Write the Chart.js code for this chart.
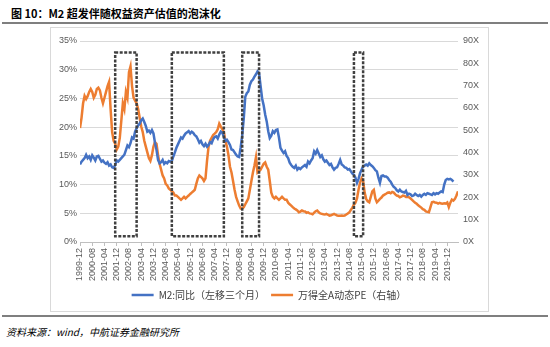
<!DOCTYPE html>
<html>
<head>
<meta charset="utf-8">
<script src="https://cdn.jsdelivr.net/npm/chart.js@4.4.0/dist/chart.umd.min.js"></script>
<style>
    body { margin: 0; width: 550px; height: 347px; background: #fff; position: relative; overflow: hidden; font-family: "Noto Sans CJK SC", sans-serif; }
    #title { position: absolute; left: 11px; top: 5px; font-size: 11px; font-weight: bold; color: #000; white-space: nowrap; }
    #rule1 { position: absolute; left: 2px; top: 22px; width: 546px; height: 2px; background: #7f7f7f; }
    #frame { position: absolute; left: 50px; top: 27px; width: 437px; height: 283px; border: 1px solid #d9d9d9; }
    #chartBox { position: absolute; left: 51px; top: 28px; width: 436px; height: 282px; }
    #rule2 { position: absolute; left: 2px; top: 315px; width: 546px; height: 2px; background: #7f7f7f; }
    #source { position: absolute; left: 6px; top: 324px; font-size: 10px; font-style: italic; color: #000; white-space: nowrap; }
</style>
</head>
<body>
<div id="title">图 10：M2 超发伴随权益资产估值的泡沫化</div>
<div id="rule1"></div>
<div id="frame"></div>
<div id="chartBox"><canvas id="m2Chart" width="436" height="282"></canvas></div>
<div id="rule2"></div>
<div id="source">资料来源：wind，中航证券金融研究所</div>
<script>
// monthly categories, 1999-12 onwards
const months = [];
for (let k = 0; k < 248; k++) {
    const m = 11 + k;
    months.push((1999 + Math.floor(m / 12)) + '-' + String(m % 12 + 1).padStart(2, '0'));
}

// M2 同比 (左移三个月), %
const m2Yoy = [
    13.5, 14.0, 14.3, 14.6, 15.2, 14.6, 14.9, 14.3, 15.1, 14.7, 14.2, 14.9,
    15.0, 14.5, 14.0, 14.2, 13.8, 13.6, 13.9, 13.3, 13.5, 13.0, 12.9, 13.4,
    14.2, 14.0, 14.3, 14.6, 14.9, 15.2, 16.0, 16.8, 16.5, 17.2, 18.2, 18.0,
    19.2, 19.8, 20.3, 20.6, 21.2, 21.5, 20.9, 20.2, 19.2, 19.4, 19.0, 19.5,
    18.9, 17.3, 16.0, 14.3, 13.7, 13.9, 14.3, 13.6, 13.9, 13.7, 14.1, 14.0,
    14.1, 14.9, 15.6, 16.4, 17.0, 17.6, 18.2, 18.0, 18.5, 18.9, 19.1, 19.3,
    18.9, 19.2, 19.0, 18.6, 18.4, 17.9, 17.3, 17.6, 17.0, 16.7, 17.1, 16.6,
    16.9, 17.4, 17.2, 17.9, 18.3, 18.4, 18.0, 18.7, 19.2, 19.0, 18.3, 17.6,
    17.8, 17.4, 16.9, 16.1, 16.0, 15.6, 15.2, 14.9, 14.8, 16.5, 18.6, 21.5,
    25.3, 25.9, 26.2, 27.4, 28.0, 28.3, 28.8, 29.2, 29.7, 29.4, 27.2, 25.0,
    23.8, 22.2, 21.0, 19.3, 18.1, 18.5, 19.3, 19.0, 19.5, 19.6, 18.2, 16.4,
    15.9, 15.5, 15.8, 15.0, 14.6, 13.8, 13.4, 13.1, 12.9, 13.3, 12.6, 12.9,
    12.7, 13.0, 13.2, 13.4, 13.1, 14.0, 13.7, 14.2, 14.6, 15.8, 15.4, 16.0,
    15.4, 14.8, 15.1, 14.4, 14.0, 14.2, 13.8, 13.4, 13.6, 13.0, 12.6, 12.9,
    13.0, 13.6, 14.3, 13.5, 13.3, 13.0, 12.9, 12.6, 12.7, 12.3, 11.9, 11.7,
    11.2, 10.3, 11.0, 12.0, 12.6, 13.2, 13.3, 13.5, 13.3, 13.7, 13.4, 13.2,
    12.9, 12.5, 12.3, 11.2, 10.3, 11.5, 11.6, 11.4, 11.4, 11.2, 10.8, 10.5,
    10.0, 9.6, 9.4, 9.0, 8.8, 9.1, 8.8, 8.7, 8.6, 8.9, 8.2, 8.4,
    8.3, 8.0, 8.1, 8.4, 8.2, 8.0, 8.2, 7.9, 8.2, 8.4, 8.2, 8.5,
    8.4, 8.3, 8.2, 8.5, 8.3, 8.5, 8.4, 8.6, 8.8, 8.7, 10.0, 10.8,
    11.0, 10.9, 11.0, 10.8, 10.5
];

// 万得全A动态PE (右轴), X
const windPe = [
    51.0, 55.6, 62.0, 65.4, 64.0, 65.3, 67.2, 68.5, 67.2, 64.6, 65.9, 68.5,
    69.1, 67.9, 64.6, 62.1, 64.6, 67.2, 69.8, 71.7, 59.5, 49.2, 45.3, 44.0,
    41.4, 42.7, 46.6, 54.3, 62.1, 59.5, 67.2, 64.6, 76.0, 78.6, 69.8, 64.6,
    63.3, 62.1, 59.5, 55.6, 51.7, 49.2, 45.3, 42.7, 40.1, 37.6, 36.3, 38.9,
    42.7, 44.7, 44.0, 38.9, 35.0, 32.4, 29.8, 28.5, 26.0, 25.3, 24.0, 23.4,
    22.7, 22.1, 20.8, 20.8, 20.2, 19.5, 18.9, 19.5, 20.2, 19.5, 20.2, 20.8,
    21.5, 22.1, 22.7, 23.4, 26.0, 28.5, 29.8, 29.2, 28.5, 27.3, 28.5, 36.3,
    42.7, 45.3, 46.6, 47.9, 48.5, 49.2, 50.5, 53.0, 51.7, 50.5, 49.2, 45.3,
    42.7, 38.9, 33.7, 31.1, 27.3, 23.4, 20.2, 18.2, 16.3, 15.0, 15.0, 15.6,
    16.9, 18.2, 19.5, 23.4, 27.3, 31.1, 34.3, 38.0, 31.1, 31.8, 32.4, 33.7,
    35.0, 35.6, 33.7, 32.4, 27.3, 22.1, 20.2, 19.5, 20.2, 19.5, 18.9, 19.5,
    20.2, 19.5, 18.9, 18.9, 17.6, 16.9, 16.3, 15.6, 15.0, 14.6, 14.1, 13.3,
    13.6, 14.1, 13.8, 13.7, 13.1, 13.3, 12.8, 12.7, 12.4, 13.1, 13.8, 14.1,
    13.3, 12.8, 12.6, 12.4, 12.3, 12.6, 12.2, 11.8, 12.0, 12.3, 12.6, 12.2,
    11.9, 11.8, 11.8, 11.9, 11.8, 11.9, 12.3, 12.8, 13.3, 14.4, 15.4, 16.7,
    17.6, 19.5, 23.4, 26.6, 28.5, 27.3, 22.1, 19.3, 18.2, 17.8, 20.2, 22.7,
    23.4, 19.5, 17.8, 18.5, 19.3, 19.9, 20.8, 21.2, 21.6, 22.1, 22.2, 21.8,
    22.4, 22.1, 21.3, 20.8, 20.6, 20.0, 20.3, 20.8, 20.6, 20.2, 20.3, 20.0,
    19.5, 18.9, 18.2, 17.6, 17.1, 16.4, 15.9, 15.4, 14.7, 14.4, 13.7, 13.5,
    13.3, 15.6, 17.8, 18.0, 17.7, 17.6, 17.2, 17.5, 17.2, 17.1, 17.3, 17.2,
    17.7, 15.6, 17.6, 19.0, 18.5, 19.3, 20.8, 22.7
];

// 虚线框 (泡沫期)
const boxFrom = ['2001-11', '2004-12', '2008-10', '2014-11'];
const boxTo = ['2003-01', '2007-10', '2009-09', '2015-05'];
const boxLow = 1;   // % on left axis
const boxHigh = 33;

const toPoints = arr => arr.map((v, i) => ({ x: i, y: v }));

// draw dashed boxes through the scales
const bubbleBoxes = {
    id: 'bubbleBoxes',
    afterDatasetsDraw(chart) {
        const { ctx, scales } = chart;
        ctx.save();
        ctx.strokeStyle = '#404040';
        ctx.lineWidth = 2.5;
        ctx.setLineDash([3, 1.5]);
        boxFrom.forEach((from, k) => {
            const x1 = scales.x.getPixelForValue(months.indexOf(from));
            const x2 = scales.x.getPixelForValue(months.indexOf(boxTo[k]));
            const y1 = scales.y.getPixelForValue(boxHigh);
            const y2 = scales.y.getPixelForValue(boxLow);
            ctx.strokeRect(x1, y1, x2 - x1, y2 - y1);
        });
        ctx.restore();
    }
};

const tickColor = '#595959';
const tickFont = { family: '"Liberation Sans", Arial, sans-serif', size: 9 };

new Chart(document.getElementById('m2Chart'), {
    type: 'line',
    data: {
        datasets: [
            {
                label: 'M2:同比（左移三个月）',
                data: toPoints(m2Yoy),
                borderColor: '#4472C4',
                backgroundColor: '#4472C4',
                borderWidth: 2.5,
                pointRadius: 0,
                tension: 0,
                yAxisID: 'y'
            },
            {
                label: '万得全A动态PE（右轴）',
                data: toPoints(windPe),
                borderColor: '#ED7D31',
                backgroundColor: '#ED7D31',
                borderWidth: 2.5,
                pointRadius: 0,
                tension: 0,
                yAxisID: 'y1'
            }
        ]
    },
    options: {
        responsive: false,
        animation: false,
        devicePixelRatio: 1,
        layout: { padding: { top: 13, left: 0, right: 0, bottom: 0 } },
        plugins: {
            tooltip: { enabled: false },
            legend: {
                position: 'bottom',
                labels: {
                    usePointStyle: true,
                    pointStyle: 'line',
                    pointStyleWidth: 22,
                    padding: 6,
                    color: '#404040',
                    font: { family: '"Noto Sans CJK SC", sans-serif', size: 10 }
                }
            }
        },
        scales: {
            x: {
                type: 'linear',
                min: 0,
                max: 247,
                afterBuildTicks: scale => {
                    scale.ticks = [];
                    for (let v = 0; v <= 240; v += 8) scale.ticks.push({ value: v });
                },
                afterFit: scale => { scale.height = 42; },
                ticks: {
                    autoSkip: false,
                    maxRotation: 90,
                    minRotation: 90,
                    padding: 2,
                    color: tickColor,
                    font: tickFont,
                    callback: v => months[v]
                },
                grid: { drawOnChartArea: false, drawTicks: true, tickLength: 4, color: '#bfbfbf' },
                border: { color: '#bfbfbf' }
            },
            y: {
                position: 'left',
                min: 0,
                max: 35,
                afterFit: scale => { scale.width = 29; },
                ticks: {
                    stepSize: 5,
                    padding: 3,
                    color: tickColor,
                    font: tickFont,
                    callback: v => v + '%'
                },
                grid: { color: '#d9d9d9', drawTicks: false },
                border: { display: false }
            },
            y1: {
                position: 'right',
                min: 0,
                max: 90,
                afterFit: scale => { scale.width = 29; },
                ticks: {
                    stepSize: 10,
                    padding: 5,
                    color: tickColor,
                    font: tickFont,
                    callback: v => v + 'X'
                },
                grid: { drawOnChartArea: false, drawTicks: false },
                border: { display: false }
            }
        }
    },
    plugins: [bubbleBoxes]
});
</script>
</body>
</html>
